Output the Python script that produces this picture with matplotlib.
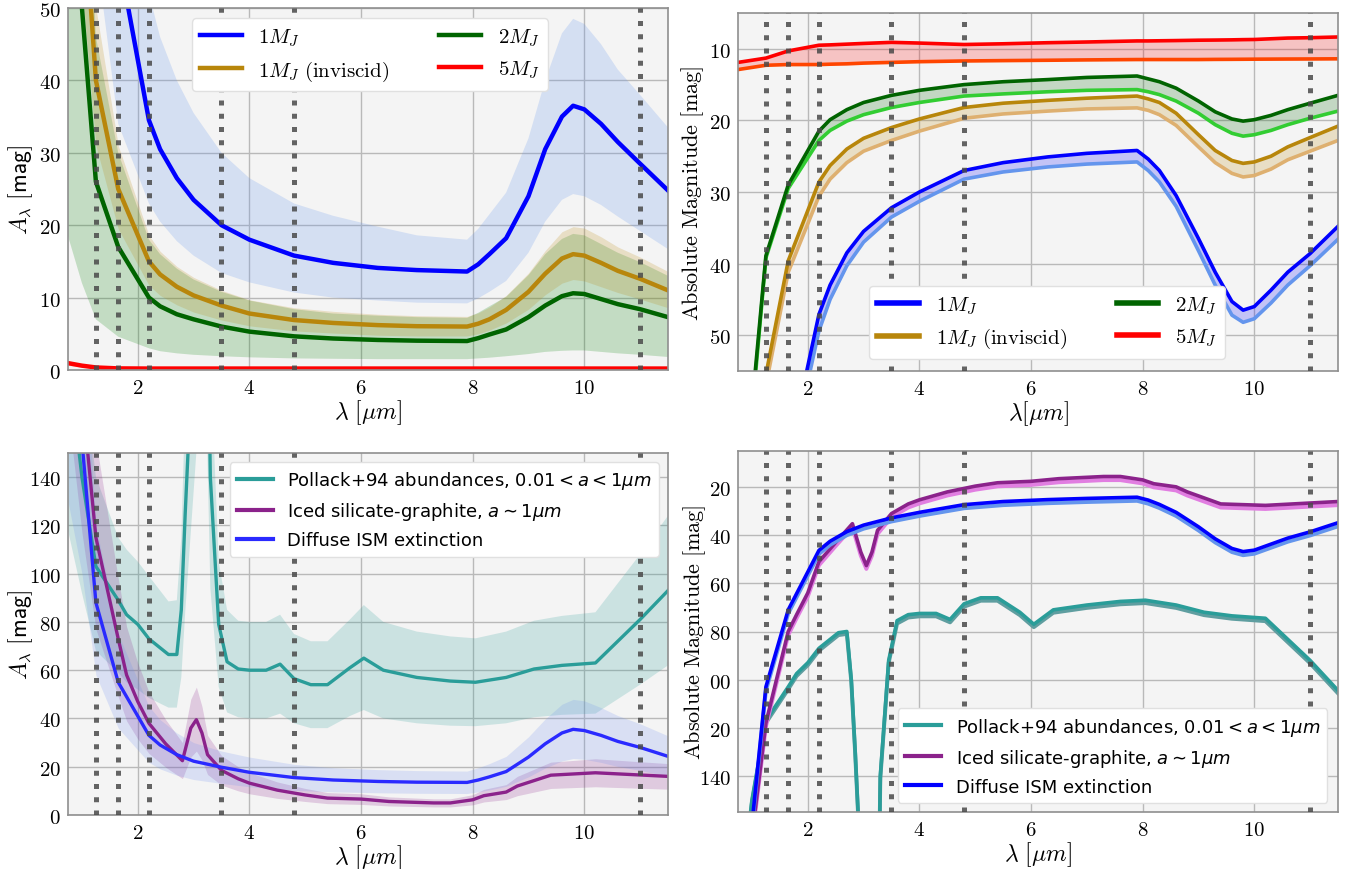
"""
Extinction and absolute magnitude of embedded planets vs wavelength.
Four panels: A_lambda and absolute magnitude for planet masses (top),
and for different dust opacity models (bottom).
"""

import numpy as np
import matplotlib
matplotlib.use("Agg")
import matplotlib.pyplot as plt
import matplotlib.ticker as mticker
from matplotlib.lines import Line2D
from matplotlib.font_manager import FontProperties

plt.rcParams["font.family"] = "DejaVu Sans"
plt.rcParams["mathtext.fontset"] = "cm"

# ── photometric bands (J, H, K, L, M, N) ────────────────────────────────────────
BANDS = [1.25, 1.65, 2.2, 3.5, 4.8, 11.0]

# ── top row: planet masses ──────────────────────────────────────────────────────
WL = [0.75, 1.0, 1.25, 1.65, 2.2, 2.4, 2.7, 3.0, 3.5, 4.0, 4.8, 5.5, 6.3, 7.0,
      7.9, 8.1, 8.3, 8.6, 9.0, 9.3, 9.6, 9.8, 10.0, 10.3, 10.6, 11.0, 11.5]

# A_lambda [mag]
A_1MJ = [140, 115, 88, 57.5, 34.5, 30.5, 26.5, 23.5, 20.0, 18.0, 15.8, 14.8, 14.1, 13.8,
         13.6, 14.6, 16.0, 18.2, 24.0, 30.5, 35.0, 36.5, 36.0, 34.0, 31.5, 28.5, 24.8]
A_1MJ_HI = [190, 155, 118, 80, 52, 46, 40, 35.5, 30, 26.5, 23, 21.3, 19.8, 18.6,
            18.0, 19.5, 21.5, 24.5, 32, 40, 46.5, 48.5, 47.8, 45, 41.5, 38, 33.5]
A_1MJ_LO = [95, 78, 58, 34, 23, 20.5, 17.8, 15.8, 13.4, 12.1, 10.7, 10.0, 9.6, 9.3,
            9.2, 9.9, 10.8, 12.3, 16.2, 20.5, 23.5, 24.3, 24.0, 22.8, 21.2, 19.2, 16.7]

A_INV = [95, 68, 40, 25, 15, 13.2, 11.5, 10.3, 8.9, 7.8, 6.9, 6.5, 6.2, 6.05,
         6.0, 6.4, 7.0, 8.3, 10.8, 13.3, 15.4, 16.0, 15.8, 14.8, 13.7, 12.6, 11.0]
A_INV_HI = [118, 84, 50, 31, 18.6, 16.4, 14.3, 12.8, 11.0, 9.7, 8.6, 8.1, 7.7, 7.5,
            7.4, 7.9, 8.7, 10.3, 13.4, 16.5, 19.1, 19.8, 19.6, 18.4, 17.0, 15.6, 13.6]
A_INV_LO = [74, 53, 31, 19.5, 11.7, 10.3, 9.0, 8.0, 6.9, 6.1, 5.4, 5.1, 4.8, 4.7,
            4.7, 5.0, 5.5, 6.5, 8.4, 10.4, 12.0, 12.5, 12.3, 11.5, 10.7, 9.8, 8.6]

A_2MJ = [80, 50, 26, 17, 10, 8.8, 7.7, 7.0, 6.0, 5.3, 4.65, 4.35, 4.15, 4.05,
         4.0, 4.4, 4.9, 5.6, 7.3, 8.9, 10.2, 10.6, 10.5, 9.8, 9.1, 8.4, 7.3]
A_2MJ_HI = [140, 88, 46, 30, 18, 16, 14, 12.5, 10.8, 9.6, 8.4, 7.8, 7.5, 7.3,
            7.2, 7.9, 8.8, 10.1, 13.1, 16.0, 18.1, 18.8, 18.6, 17.4, 16.2, 14.9, 13.0]
A_2MJ_LO = [18.5, 12, 7.0, 4.6, 3.0, 2.6, 2.3, 2.1, 1.9, 1.75, 1.6, 1.55, 1.5, 1.5,
            1.5, 1.6, 1.7, 1.9, 2.2, 2.5, 2.65, 2.7, 2.7, 2.5, 2.3, 2.1, 1.8]

A_5MJ = [0.95, 0.6, 0.35, 0.22, 0.2, 0.2, 0.2, 0.2, 0.2, 0.2, 0.2, 0.2, 0.2, 0.2,
         0.2, 0.2, 0.2, 0.2, 0.2, 0.2, 0.2, 0.2, 0.2, 0.2, 0.2, 0.2, 0.2]
A_5MJ_HI = [1.25, 0.8, 0.45, 0.28, 0.25, 0.25, 0.25, 0.25, 0.25, 0.25, 0.25, 0.25, 0.25, 0.25,
            0.25, 0.25, 0.25, 0.25, 0.25, 0.25, 0.25, 0.25, 0.25, 0.25, 0.25, 0.25, 0.25]
A_5MJ_LO = [0.65, 0.4, 0.25, 0.16, 0.15, 0.15, 0.15, 0.15, 0.15, 0.15, 0.15, 0.15, 0.15, 0.15,
            0.15, 0.15, 0.15, 0.15, 0.15, 0.15, 0.15, 0.15, 0.15, 0.15, 0.15, 0.15, 0.15]

# absolute magnitude [mag], bright / faint edge
M_1MJ = [120, 100, 80, 67, 47.1, 43, 38.5, 35.5, 32.2, 30.0, 27.0, 25.9, 25.1, 24.6,
         24.2, 25.4, 27.0, 30.5, 36.5, 41.2, 45.3, 46.5, 46.0, 43.7, 41.2, 38.6, 34.8]
M_1MJ_F = [122, 102, 82, 69, 49.4, 45, 40.3, 37.0, 33.5, 31.3, 28.2, 27.2, 26.5, 26.1,
           25.8, 27.0, 28.6, 32.0, 38.2, 43.0, 47.2, 48.2, 47.7, 45.5, 43.0, 40.3, 36.6]
M_INV = [90, 72, 55.5, 39.6, 28.6, 26.3, 24.0, 22.5, 21.0, 19.8, 18.2, 17.6, 17.2, 16.9,
         16.6, 17.0, 17.5, 19.0, 22.0, 24.2, 25.6, 26.0, 25.8, 25.0, 23.7, 22.4, 20.8]
M_INV_F = [92, 74, 57, 41.2, 30.6, 28.2, 25.9, 24.3, 22.8, 21.5, 19.7, 19.1, 18.7, 18.4,
           18.25, 18.6, 19.2, 20.7, 23.7, 25.9, 27.4, 27.9, 27.7, 26.8, 25.5, 24.3, 22.8]
M_2MJ = [75, 60, 38.9, 29.0, 21.5, 19.9, 18.5, 17.5, 16.5, 15.8, 15.0, 14.6, 14.3, 14.0,
         13.8, 14.2, 14.6, 15.5, 17.3, 18.8, 19.8, 20.1, 19.9, 19.3, 18.5, 17.6, 16.5]
M_2MJ_F = [76, 61, 39.2, 29.5, 22.8, 21.4, 20.1, 19.2, 18.2, 17.5, 16.6, 16.3, 16.0, 15.8,
           15.7, 16.0, 16.4, 17.3, 19.0, 20.6, 21.8, 22.2, 22.0, 21.4, 20.6, 19.7, 18.7]
M_5MJ = [11.9, 11.6, 11.3, 10.3, 9.5, 9.45, 9.35, 9.25, 9.1, 9.2, 9.4, 9.3, 9.15, 9.05,
         8.9, 8.9, 8.88, 8.85, 8.8, 8.78, 8.75, 8.72, 8.7, 8.6, 8.5, 8.45, 8.35]
M_5MJ_F = [12.9, 12.6, 12.3, 12.2, 12.2, 12.15, 12.1, 12.0, 11.9, 11.8, 11.7, 11.65, 11.6, 11.55,
           11.5, 11.5, 11.5, 11.5, 11.5, 11.48, 11.47, 11.46, 11.45, 11.44, 11.43, 11.42, 11.4]

# ── bottom row: dust opacity models ─────────────────────────────────────────────
WL_ICE = [0.75, 1.0, 1.25, 1.65, 1.8, 2.0, 2.2, 2.5, 2.8, 2.95, 3.05, 3.15, 3.25, 3.5,
          3.8, 4.0, 4.5, 5.0, 5.4, 6.0, 6.5, 7.3, 7.6, 8.0, 8.2, 8.6, 8.8, 9.4, 10.2, 11.5]
WL_POL = [0.75, 1.0, 1.25, 1.65, 1.8, 2.0, 2.2, 2.55, 2.7, 2.78, 2.85, 3.2, 3.3, 3.45,
          3.6, 3.8, 4.0, 4.3, 4.55, 4.8, 5.1, 5.4, 5.8, 6.05, 6.4, 7.0, 7.6, 8.05, 8.6,
          9.1, 9.6, 10.2, 11.0, 11.5]

A_ISM = [200, 155, 88, 55, 33, 29, 25, 22.3, 19.8, 17.7, 15.5, 14.5, 13.9, 13.6,
         13.5, 14.5, 15.8, 18.0, 24, 29.5, 34, 35.5, 35, 33, 30.5, 28, 24.3]
A_ISM_HI = [270, 210, 120, 75, 45, 39.5, 34, 30, 26.5, 24, 21, 19.6, 18.8, 18.4,
            18.2, 19.6, 21.3, 24.3, 32.4, 39.8, 45.9, 47.9, 47.3, 44.5, 41.2, 37.8, 32.8]
A_ISM_LO = [130, 100, 58, 36, 21.8, 19.1, 16.5, 14.7, 13.1, 11.7, 10.2, 9.6, 9.2, 9.0,
            8.9, 9.6, 10.4, 11.9, 15.8, 19.5, 22.4, 23.4, 23.1, 21.8, 20.1, 18.5, 16.0]

A_ICE = [250, 175, 115, 73, 58, 47, 38, 29.5, 22.5, 36, 39.5, 34, 25, 18.5,
         15, 13.2, 10.3, 8.3, 7.0, 6.6, 5.6, 5.0, 5.0, 6.3, 8.0, 9.5, 12.0, 16.5, 17.5, 16.0]
A_ICE_HI = [330, 235, 155, 98, 78, 63, 51, 39.5, 30, 48, 53, 45, 33, 24.6,
            20, 17.6, 13.7, 11, 9.3, 8.8, 7.5, 6.7, 6.7, 8.4, 10.6, 12.6, 16, 21.9, 23.3, 21.3]
A_ICE_LO = [168, 117, 77, 49, 39, 31.5, 25.5, 19.8, 15.1, 24, 26.5, 22.8, 16.8, 12.4,
            10, 8.8, 6.9, 5.6, 4.7, 4.4, 3.75, 3.35, 3.35, 4.2, 5.4, 6.4, 8, 11, 11.7, 10.7]

A_POL = [190, 140, 103, 89, 83, 79, 73, 66.5, 66.5, 85, 125, 300, 140, 79,
         63.5, 60.5, 60, 60, 62.5, 56.5, 54, 54, 61, 65, 60, 57, 55.5, 55, 57,
         60.5, 62, 63, 81, 93]
A_POL_HI = [280, 190, 140, 115, 110, 105, 99, 88.5, 89, 115, 170, 400, 190, 105,
            85, 80.5, 80, 80, 83, 75, 72, 72, 81, 87, 80, 76, 74, 73.2, 76,
            80.5, 82.5, 84, 108, 124]
A_POL_LO = [118, 92, 68, 59, 55, 52, 48.5, 44.5, 44.5, 57, 84, 200, 94, 53,
            42.5, 40.5, 40, 40, 42, 38, 36, 36, 41, 43.5, 40, 38, 37, 36.8, 38,
            40.5, 41.5, 42, 54, 62]

M_ISM = [200, 160, 103, 71, 46.3, 42.5, 38.5, 35.8, 32.8, 30.5, 27.3, 26.0, 25.2, 24.7,
         24.2, 25.4, 27.2, 30.5, 36.5, 41.5, 45.5, 46.8, 46.2, 43.7, 41.2, 38.6, 34.8]
M_ISM_F = [201.5, 161.5, 104.5, 72.5, 47.8, 44, 40, 37.3, 34.3, 32, 28.8, 27.5, 26.7, 26.2,
           25.7, 26.9, 28.7, 32, 38, 43, 47, 48.3, 47.7, 45.2, 42.7, 40.1, 36.3]
M_ICE = [230, 165, 118, 80, 73, 64, 51, 43, 35.2, 47, 52.6, 47, 38, 31,
         27, 25.3, 22, 19.6, 18.2, 17.6, 16.5, 15.6, 15.6, 17.0, 18.6, 19.9, 22.0, 27.0, 27.6, 26.0]
M_ICE_F = [231.5, 166.5, 119.5, 81.5, 74.5, 65.5, 52.5, 44.5, 36.7, 48.5, 54, 48.5, 39.5, 32.5,
           28.5, 26.8, 23.5, 21.1, 19.7, 19.1, 18, 17.1, 17.1, 18.5, 20.1, 21.4, 23.5, 28.5, 29.1, 27.5]
M_POL = [200, 150, 117, 103, 97.5, 93, 87, 80.5, 80, 100, 130, 300, 140, 92,
         75.5, 73, 72.5, 72.5, 75, 68.5, 66, 66, 72, 77, 71, 69, 67.5, 67, 69,
         72, 73.5, 74.5, 92, 104.5]
M_POL_F = [201, 151, 118, 104, 98.5, 94, 88, 81.5, 81, 101, 131, 301, 141, 93,
           76.7, 74.2, 73.7, 73.7, 76.2, 69.7, 67.2, 67.2, 73.2, 78.2, 72.2, 70.2, 68.7, 68.2, 70.2,
           73.2, 74.7, 75.7, 93.2, 105.7]

BR_YTICKS = [20, 40, 60, 80, 100, 120, 140]
BR_YTICKLABELS = ["20", "40", "60", "80", "00", "20", "140"]

C_BLUE, C_GOLD, C_GREEN, C_RED = "#0000ff", "#b8860b", "#006400", "#ff0000"
C_TEAL, C_PURPLE, C_ISM = "#2a9d99", "#8b228b", "#2a2aff"

W, H = 1349, 870

# tick labels in Computer Modern Sans, like the LaTeX original
sf = mticker.FuncFormatter(lambda v, pos: r"$\mathsf{%d}$" % round(v))


def make_ax(fig, left, top, right, bottom):
    ax = fig.add_axes([left / W, 1 - bottom / H, (right - left) / W, (bottom - top) / H])
    ax.set_facecolor("#f4f4f4")
    ax.grid(True, color="#b9b9b9", lw=1.0)
    ax.set_axisbelow(True)
    for s in ax.spines.values():
        s.set_color("#8f8f8f")
        s.set_linewidth(1.2)
    ax.tick_params(length=0, labelsize=15, pad=5)
    ax.set_xlim(0.75, 11.5)
    ax.set_xticks([2, 4, 6, 8, 10])
    ax.xaxis.set_major_formatter(sf)
    ax.yaxis.set_major_formatter(sf)
    for b in BANDS:
        ax.axvline(b, color="#4a4a4a", ls=":", lw=3.6, alpha=0.85, zorder=4)
    return ax


fig = plt.figure(figsize=(W / 100, H / 100), dpi=100)

LBL_1 = r"$\mathsf{1}M_J$"
LBL_INV = r"$\mathsf{1}M_J\ \mathrm{(inviscid)}$"
LBL_2 = r"$\mathsf{2}M_J$"
LBL_5 = r"$\mathsf{5}M_J$"

# ── top left: A_lambda for planet masses ────────────────────────────────────────
ax = make_ax(fig, 68, 9, 668, 371)
ax.fill_between(WL, A_2MJ_LO, A_2MJ_HI, color="#008000", alpha=0.2, lw=0)
ax.fill_between(WL, A_INV_LO, A_INV_HI, color=C_GOLD, alpha=0.2, lw=0)
ax.fill_between(WL, A_1MJ_LO, A_1MJ_HI, color="#6495ed", alpha=0.22, lw=0)
ax.fill_between(WL, A_5MJ_LO, A_5MJ_HI, color=C_RED, alpha=0.2, lw=0)
ax.plot(WL, A_1MJ, color=C_BLUE, lw=3.2, label=LBL_1)
ax.plot(WL, A_INV, color=C_GOLD, lw=3.2, label=LBL_INV)
ax.plot(WL, A_2MJ, color=C_GREEN, lw=3.2, label=LBL_2)
ax.plot(WL, A_5MJ, color=C_RED, lw=3.2, label=LBL_5)
ax.set_ylim(0, 50)
ax.set_yticks([0, 10, 20, 30, 40, 50])
ax.set_xlabel(r"$\lambda\ [\mu m]$", fontsize=17, labelpad=0)
ax.set_ylabel(r"$A_\lambda\ \mathsf{[mag]}$", fontsize=17)
ax.yaxis.set_label_coords(-0.055, 0.5)
leg = ax.legend(loc="upper center", bbox_to_anchor=(0.503, 1.0), ncol=2, fontsize=15,
                framealpha=1, edgecolor="#e0e0e0", columnspacing=2.4, handlelength=2.0)
leg.set_zorder(10)

# ── top right: absolute magnitude for planet masses ─────────────────────────────
ax = make_ax(fig, 738, 14, 1338, 372)
for dark, faint, c1, c2 in [(M_5MJ, M_5MJ_F, C_RED, "#ff4500"),
                            (M_2MJ, M_2MJ_F, C_GREEN, "#32cd32"),
                            (M_INV, M_INV_F, C_GOLD, "#deb070"),
                            (M_1MJ, M_1MJ_F, C_BLUE, "#6495ed")]:
    ax.fill_between(WL, dark, faint, color=c1, alpha=0.2, lw=0)
    ax.plot(WL, faint, color=c2, lw=2.6)
    ax.plot(WL, dark, color=c1, lw=2.6)
ax.set_ylim(55, 5)
ax.set_yticks([10, 20, 30, 40, 50])
ax.set_xlabel(r"$\lambda[\mu m]$", fontsize=17, labelpad=0)
ax.set_ylabel(r"$\mathrm{Absolute\ Magnitude\ [mag]}$", fontsize=16)
ax.yaxis.set_label_coords(-0.053, 0.5)
handles = [Line2D([], [], color=C_BLUE, lw=4, label=LBL_1),
           Line2D([], [], color=C_GOLD, lw=4, label=LBL_INV),
           Line2D([], [], color=C_GREEN, lw=4, label=LBL_2),
           Line2D([], [], color=C_RED, lw=4, label=LBL_5)]
leg = ax.legend(handles=handles, loc="lower center", bbox_to_anchor=(0.515, 0.005), ncol=2,
                fontsize=15, framealpha=1, edgecolor="#e0e0e0", columnspacing=2.4)
leg.set_zorder(10)

# ── bottom left: A_lambda for dust models ───────────────────────────────────────
sans_math = FontProperties(family="DejaVu Sans", size=13, math_fontfamily="dejavusans")
LBL_POL = r"Pollack+94 abundances, $0.01 < a < 1\mu m$"
LBL_ICE = r"Iced silicate-graphite, $a \sim 1\mu m$"
LBL_ISM = "Diffuse ISM extinction"

ax = make_ax(fig, 68, 454, 668, 816)
ax.fill_between(WL_POL, A_POL_LO, A_POL_HI, color=C_TEAL, alpha=0.2, lw=0)
ax.fill_between(WL_ICE, A_ICE_LO, A_ICE_HI, color=C_PURPLE, alpha=0.2, lw=0)
ax.fill_between(WL, A_ISM_LO, A_ISM_HI, color="#6d8ff0", alpha=0.2, lw=0)
ax.plot(WL_POL, A_POL, color=C_TEAL, lw=2.4, label=LBL_POL)
ax.plot(WL_ICE, A_ICE, color=C_PURPLE, lw=2.4, label=LBL_ICE)
ax.plot(WL, A_ISM, color=C_ISM, lw=2.4, label=LBL_ISM)
ax.set_ylim(0, 150)
ax.set_yticks([0, 20, 40, 60, 80, 100, 120, 140])
ax.set_xlabel(r"$\lambda\ [\mu m]$", fontsize=17, labelpad=0)
ax.set_ylabel(r"$A_\lambda\ \mathsf{[mag]}$", fontsize=17)
ax.yaxis.set_label_coords(-0.055, 0.5)
leg = ax.legend(loc="upper right", bbox_to_anchor=(1.0, 1.0), prop=sans_math,
                framealpha=1, edgecolor="#e0e0e0")
for ln in leg.get_lines():
    ln.set_linewidth(3)
leg.set_zorder(10)

# ── bottom right: absolute magnitude for dust models ────────────────────────────
ax = make_ax(fig, 738, 452, 1338, 813)
for x, dark, faint, c1, c2 in [(WL_POL, M_POL, M_POL_F, C_TEAL, "#5f9ea0"),
                               (WL_ICE, M_ICE, M_ICE_F, C_PURPLE, "#e17ee1"),
                               (WL, M_ISM, M_ISM_F, C_BLUE, "#6495ed")]:
    ax.fill_between(x, dark, faint, color=c1, alpha=0.2, lw=0)
    ax.plot(x, faint, color=c2, lw=2.8)
    ax.plot(x, dark, color=c1, lw=2.6)
ax.set_ylim(155, 5)
ax.set_yticks(BR_YTICKS)
ax.set_yticklabels([r"$\mathsf{%s}$" % t for t in BR_YTICKLABELS])
ax.set_xlabel(r"$\lambda\ [\mu m]$", fontsize=17, labelpad=0)
ax.set_ylabel(r"$\mathrm{Absolute\ Magnitude\ [mag]}$", fontsize=16)
ax.yaxis.set_label_coords(-0.05, 0.5)
handles = [Line2D([], [], color=C_TEAL, lw=3, label=LBL_POL),
           Line2D([], [], color=C_PURPLE, lw=3, label=LBL_ICE),
           Line2D([], [], color=C_BLUE, lw=3, label=LBL_ISM)]
leg = ax.legend(handles=handles, loc="lower right", bbox_to_anchor=(0.997, 0.0),
                prop=sans_math, framealpha=1, edgecolor="#e0e0e0")
leg.set_zorder(10)

fig.savefig("out.png", dpi=100)
plt.close(fig)
